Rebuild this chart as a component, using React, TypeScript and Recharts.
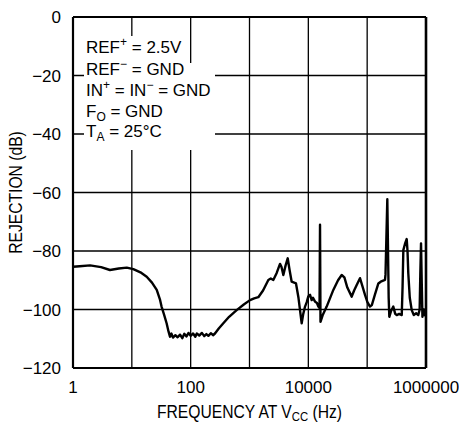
import React from 'react';
import { LineChart, Line, XAxis, YAxis, CartesianGrid, ReferenceLine, Label } from 'recharts';

const frequencies = [
  1, 1.3, 1.95, 3, 4.25, 6, 8.2, 10.6, 14, 17.9, 22, 26.5, 30, 32, 35, 39, 42, 44.5, 47, 50,
  55, 60, 66, 72, 78, 85, 92, 100, 110, 120, 127, 140, 155, 170, 185, 200, 220, 240, 259, 300,
  359, 450, 605, 800, 1020, 1200, 1413, 1700, 2090, 2300, 2540, 2900, 3300, 3500, 3760, 4100, 4460, 4800, 5210, 6170,
  6800, 7300, 7710, 8200, 8790, 9400, 10000, 10700, 11400, 12000, 13000, 14000, 14800, 15500, 15800, 16100, 17500, 20500, 26600, 32000,
  36900, 41000, 46000, 54600, 60000, 66400, 75500, 83000, 91900, 101000, 111700, 120000, 135000, 155000, 170000, 201000, 205000, 220000, 232000, 238000,
  255000, 278000, 300000, 318000, 350000, 387000, 400000, 412000, 440000, 470000, 485000, 500000, 530000, 572000, 620000, 680000, 740000, 780000, 800000, 823000,
  845000, 870000, 920000, 960000, 1000000,
];

const rejection = [
  -85.4, -85.2, -84.9, -85.5, -86.5, -86.0, -85.7, -86.2, -87.3, -88.8, -90.8, -93.3, -96.5, -99, -101.5, -104.7, -107.5, -109.3, -108.2, -109.6,
  -108.8, -109.5, -108.6, -109.8, -108.3, -109.2, -108.0, -109.0, -108.2, -109.3, -108.2, -108.9, -108.0, -109.1, -108.4, -109.0, -108.1, -108.8, -108.2, -106.5,
  -104.7, -102.5, -100.2, -98.3, -96.8, -96.2, -95.8, -93.5, -89.9, -89.4, -89.9, -87.5, -84.4, -85.5, -88.2, -85.0, -82.5, -86.5, -90.5, -91.1,
  -96, -101, -104.7, -101.5, -99, -97.5, -95.5, -95, -96.8, -96.0, -97.3, -97.8, -99, -99.5, -71, -104.2, -102, -99, -93.3, -90,
  -88.2, -89, -92.5, -95.6, -93.5, -91.6, -89.3, -92, -95, -97.5, -99, -98.5, -95, -91.1, -90.5, -89.9, -88, -62.3, -96, -102.5,
  -100.5, -99, -101.5, -101.9, -101.5, -101.9, -92, -79.7, -77.5, -75.9, -80, -87.6, -96, -100.2, -101.9, -101.3, -101.9, -100, -88, -77.4,
  -90, -102.5, -100, -102, -101.2,
];

const xTicks = [1, 10, 100, 1000, 10000, 100000, 1000000];
const xTickLabels = ['1', '', '100', '', '10000', '', '1000000'];
const yTicks = [-120, -100, -80, -60, -40, -20, 0];

const data = frequencies.map((f, i) => ({ f, r: rejection[i] }));

const FONT = "'Liberation Sans', Arial, Helvetica, sans-serif";
const FS = 17;

const XLabel = (props: any) => {
  const vb = props.viewBox || {};
  const cx = vb.x + vb.width / 2;
  return (
    <g transform={`translate(${cx} 418) scale(0.87 1)`}>
      <text x={0} y={0} textAnchor="middle" fontFamily={FONT} fontSize={18} fill="#000">
        FREQUENCY AT V<tspan fontSize={13} dy={3}>CC</tspan>
        <tspan dy={-3}> (Hz)</tspan>
      </text>
    </g>
  );
};

const YLabel = (props: any) => {
  const vb = props.viewBox || {};
  const cy = vb.y + vb.height / 2;
  return (
    <g transform={`translate(22 ${cy}) rotate(-90) scale(0.87 1)`}>
      <text x={0} y={0} textAnchor="middle" fontFamily={FONT} fontSize={18} fill="#000">
        REJECTION (dB)
      </text>
    </g>
  );
};

export default function App() {
  return (
    <div style={{ position: 'absolute', left: 0, top: 0, width: 459, height: 423, background: '#fff' }}>
      <LineChart width={459} height={423} data={data} margin={{ top: 17, right: 33, left: 0, bottom: 0 }}>
        <CartesianGrid stroke="#000" strokeWidth={1.3} verticalValues={xTicks} horizontalValues={yTicks} />
        <XAxis
          dataKey="f"
          type="number"
          scale="log"
          domain={[1, 1000000]}
          ticks={xTicks}
          tickFormatter={(v: number) => xTickLabels[xTicks.indexOf(v)] ?? ''}
          tickLine={false}
          tickMargin={7}
          axisLine={{ stroke: '#000', strokeWidth: 2.2 }}
          tick={{ fill: '#000', fontSize: FS, fontFamily: FONT }}
          height={55}
          allowDataOverflow
          interval={0}
        >
          <Label content={<XLabel />} />
        </XAxis>
        <YAxis
          type="number"
          domain={[-120, 0]}
          ticks={yTicks}
          tickFormatter={(v: number) => (v < 0 ? '\u2212' + Math.abs(v) : String(v))}
          tickLine={false}
          tickMargin={6}
          axisLine={{ stroke: '#000', strokeWidth: 2.2 }}
          tick={{ fill: '#000', fontSize: FS, fontFamily: FONT }}
          width={73}
          interval={0}
        >
          <Label content={<YLabel />} />
        </YAxis>
        <ReferenceLine y={0} stroke="#000" strokeWidth={2.2} />
        <ReferenceLine x={1000000} stroke="#000" strokeWidth={2.6} />
        <Line
          type="linear"
          dataKey="r"
          stroke="#000"
          strokeWidth={2.4}
          dot={false}
          isAnimationActive={false}
          strokeLinejoin="round"
        />
      </LineChart>
      <svg width={459} height={423} style={{ position: 'absolute', left: 0, top: 0, pointerEvents: 'none' }}>
        <rect x={84} y={36} width={102} height={28} fill="#fff" />
        <rect x={84} y={63} width={131} height={87} fill="#fff" />
        <g fontFamily={FONT} fontSize={FS} fill="#000">
          <text x={86} y={53}>
            REF<tspan fontSize={12} dy={-7}>+</tspan>
            <tspan dy={7}> = 2.5V</tspan>
          </text>
          <text x={86} y={75}>
            REF<tspan fontSize={12} dy={-7}>{'\u2212'}</tspan>
            <tspan dy={7}> = GND</tspan>
          </text>
          <text x={86} y={96}>
            IN<tspan fontSize={12} dy={-7}>+</tspan>
            <tspan dy={7}> = IN</tspan>
            <tspan fontSize={12} dy={-7}>{'\u2212'}</tspan>
            <tspan dy={7}> = GND</tspan>
          </text>
          <text x={86} y={117}>
            F<tspan fontSize={12} dy={4}>O</tspan>
            <tspan dy={-4}> = GND</tspan>
          </text>
          <text x={86} y={137}>
            T<tspan fontSize={12} dy={4}>A</tspan>
            <tspan dy={-4}> = 25°C</tspan>
          </text>
        </g>
      </svg>
    </div>
  );
}
